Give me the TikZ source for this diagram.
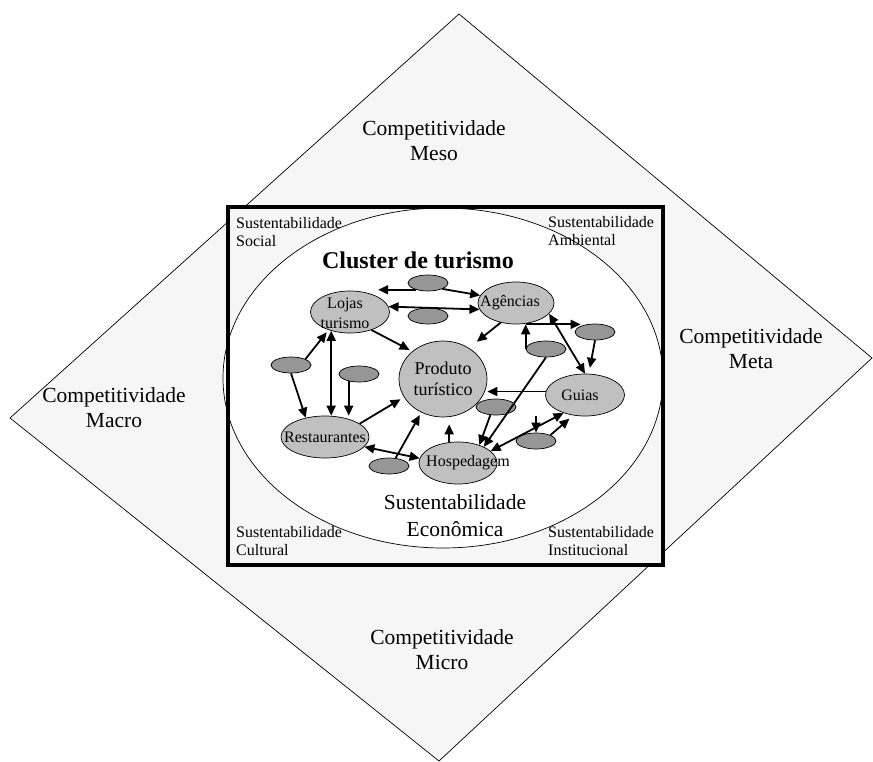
\documentclass[tikz,border=0pt]{standalone}
\usepackage{fontspec}
\setmainfont{Liberation Serif}
\usetikzlibrary{shapes.geometric,arrows.meta}
\definecolor{paper}{RGB}{246,246,246}
\definecolor{agentgray}{RGB}{192,192,192}
\definecolor{minorgray}{RGB}{150,150,150}
\tikzset{
  level/.style={align=center,inner sep=0pt,font=\fontsize{21.5}{25}\selectfont},
  corner/.style={align=left,inner sep=0pt,anchor=base west,font=\fontsize{16}{18}\selectfont},
  agent/.style={ellipse,draw,fill=agentgray,inner sep=0pt,minimum height=42pt,line width=0.7pt},
  agenttext/.style={align=center,inner sep=0pt,font=\fontsize{16}{20}\selectfont},
  minor/.style={ellipse,draw,fill=minorgray,inner sep=0pt,minimum width=40pt,minimum height=16pt,line width=0.7pt},
  link/.style={line width=1.8pt,>={Triangle[length=10pt,width=9pt]}}
}
\begin{document}
\begin{tikzpicture}[x=1pt,y=-1pt]
\useasboundingbox (0,0) rectangle (873,762);

% competitividade
\draw[fill=paper,line width=0.7pt] (459,14) -- (872,358) -- (439,761) -- (10,418) -- cycle;
\node[level,anchor=base] (meso)  at (434,161) {Competitividade\\Meso};
\node[level,anchor=base] (meta)  at (751,368) {Competitividade\\Meta};
\node[level,anchor=base] (macro) at (114,427) {Competitividade\\Macro};
\node[level,anchor=base] (micro) at (442,669) {Competitividade\\Micro};

% sustentabilidade
\fill[paper] (228,207) rectangle (663,565);
\draw[fill=white,line width=0.7pt] (443,378) ellipse [x radius=220,y radius=170];
\draw[line width=3.5pt] (228,207) rectangle (663,565);
\node[corner] (social)   at (236,247) {Sustentabilidade\\Social};
\node[corner] (ambiental) at (548,246) {Sustentabilidade\\Ambiental};
\node[corner] (cultural) at (236,555) {Sustentabilidade\\Cultural};
\node[corner] (instit)   at (548,555) {Sustentabilidade\\Institucional};
\node[align=center,inner sep=0pt,anchor=base,font=\fontsize{21.5}{27}\selectfont] (econ) at (455,536) {Sustentabilidade\\Econômica};
\node[inner sep=0pt,anchor=base,font=\fontsize{24}{28}\selectfont\bfseries] (title) at (418,269) {Cluster de turismo};

% cluster
\node[agent,minimum width=79pt,label={[agenttext,xshift=-5pt,yshift=-1pt]center:Lojas\\turismo}] (lojas) at (350,312) {};
\node[agent,minimum width=76pt,label={[agenttext,xshift=-6pt]center:Agências}] (agen) at (516,303) {};
\node[agent,minimum width=88pt,minimum height=76pt,label={[agenttext,font=\fontsize{18}{21}\selectfont]center:Produto\\turístico}] (prod) at (443,379) {};
\node[agent,minimum width=79pt,label={[agenttext,xshift=-5pt]center:Guias}] (guias) at (585,395) {};
\node[agent,minimum width=88pt,label={[agenttext]center:Restaurantes}] (rest) at (325,437) {};
\node[agent,minimum width=78pt,label={[agenttext,xshift=10pt]center:Hospedagem}] (hosp) at (458,463) {};

\node[minor] (m1) at (428,283) {};
\node[minor] (m2) at (428,316) {};
\node[minor] (m3) at (291,365) {};
\node[minor] (m4) at (359,374) {};
\node[minor] (m5) at (546,349) {};
\node[minor] (m6) at (595,332) {};
\node[minor] (m7) at (496,407) {};
\node[minor] (m8) at (536,441) {};
\node[minor] (m9) at (389,466) {};

% links
\draw[link,->] (m1.210) -- (m1.210 -| lojas.north east);
\draw[link,->] (m1.south east) -- (agen.168);
\draw[link,<->] (lojas.8) -- (agen.190);
\draw[link,->,shorten >=3pt] (lojas.-40) -- (prod.138);
\draw[link,->,shorten >=10pt] (agen.232) -- (prod.50);
\draw[link,->,shorten >=3pt] (m3.north east) -- (lojas.220);
\draw[link,->] (m3.south) -- (rest.135);
\draw[link,<->] (lojas.225) -- (lojas.225 |- rest.north);
\draw[link,->] (m4.215) -- (m4.215 |- rest.north);
\draw[link,->,shorten >=4pt] (rest.21) -- (prod.205);
\draw[link,->,shorten >=3pt] (m9.50) -- (prod.237);
\draw[link,<->] (rest.-14) -- (hosp.173);
\draw[link,->,shorten >=7pt] (hosp.113) -- (hosp.113 |- prod.south);
\draw[link,->] (guias.175) -- (guias.175 -| prod.east);
\draw[link,->] (m5.west) -- (m5.west |- agen.south);
\draw[link,->] (agen.south -| m5.west) -- (agen.south -| m6.north west);
\draw[link,<->] (agen.-18) -- (guias.north);
\draw[link,->,shorten >=6pt] (m6.south) -- (guias.80);
\draw[link,->] (m5.south) -- (hosp.32);
\draw[link,->] (m7.235) -- (hosp.40);
\draw[link,<->] (guias.220) -- (hosp.20);
\draw[link,<-] (m8.north) -- ++(0,-17);
\draw[link,->,shorten >=5pt] (m8.north east) -- (guias.240);
\end{tikzpicture}
\end{document}
